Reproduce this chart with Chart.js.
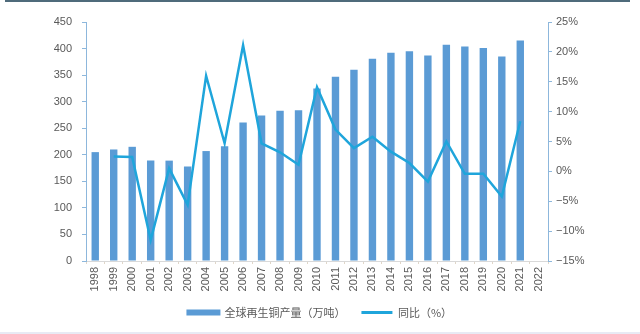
<!DOCTYPE html>
<html>
<head>
<meta charset="utf-8">
<script src="https://cdn.jsdelivr.net/npm/chart.js@4/dist/chart.umd.min.js"></script>
<style>
    body { margin: 0; background: #fff; }
    #wrap { position: relative; width: 640px; height: 334px; }
    #topRule { position: absolute; left: 5px; top: 0; width: 625px; height: 2px; background: #4f6b7b; }
    #bottomRule { position: absolute; left: 0; top: 332px; width: 640px; height: 2px; background: #e8eaf4; }
</style>
</head>
<body>
<div id="wrap">
    <canvas id="copperChart" width="640" height="334"></canvas>
    <div id="topRule"></div>
    <div id="bottomRule"></div>
</div>
<script>
// 全球再生铜产量 (万吨) and yoy change (%)
const years = ['1998', '1999', '2000', '2001', '2002', '2003', '2004', '2005', '2006', '2007', '2008', '2009', '2010',
    '2011', '2012', '2013', '2014', '2015', '2016', '2017', '2018', '2019', '2020', '2021', '2022'];
const output = [205, 210, 215, 189, 189, 178, 207, 216, 261, 274, 283, 284, 325,
    347, 360, 381, 392, 395, 387, 407, 404, 401, 385, 415, null];
const yoy = [null, 2.5, 2.4, -11.5, 0.5, -5.6, 16.0, 4.7, 21.1, 4.7, 3.2, 1.1, 14.1,
    7.0, 3.9, 5.8, 3.3, 1.4, -1.7, 5.0, -0.4, -0.4, -4.2, 8.4, null];
const leftTicks = [0, 50, 100, 150, 200, 250, 300, 350, 400, 450];
const rightTicks = [-15, -10, -5, 0, 5, 10, 15, 20, 25];

const barColor = '#5b9bd5';
const lineColor = '#1fa5db';
const textColor = '#595959';
const tickFont = { family: 'Liberation Sans, Arial, sans-serif', size: 11 };

document.addEventListener('DOMContentLoaded', () => {
    renderChart();
});

function renderChart() {
    const ctx = document.getElementById('copperChart').getContext('2d');

    new Chart(ctx, {
        type: 'bar',
        data: {
            labels: years,
            datasets: [
                {
                    type: 'line',
                    label: '同比（%）',
                    data: yoy,
                    yAxisID: 'y1',
                    borderColor: lineColor,
                    backgroundColor: lineColor,
                    borderWidth: 2.5,
                    pointRadius: 0,
                    tension: 0,
                    order: 0
                },
                {
                    label: '全球再生铜产量（万吨）',
                    data: output,
                    yAxisID: 'y',
                    backgroundColor: barColor,
                    categoryPercentage: 1,
                    barPercentage: 0.4,
                    order: 1
                }
            ]
        },
        options: {
            responsive: false,
            animation: false,
            layout: { padding: { top: 22, left: 0, right: 0, bottom: 6 } },
            plugins: {
                tooltip: { enabled: false },
                legend: {
                    position: 'bottom',
                    reverse: true,
                    labels: {
                        boxWidth: 31,
                        boxHeight: 3,
                        padding: 16,
                        color: textColor,
                        font: { family: 'Noto Sans CJK SC', size: 11 },
                        generateLabels: chart => {
                            return chart.data.datasets.map((ds, i) => ({
                                text: ds.label,
                                fillStyle: ds.type === 'line' ? ds.borderColor : ds.backgroundColor,
                                strokeStyle: ds.type === 'line' ? ds.borderColor : ds.backgroundColor,
                                lineWidth: ds.type === 'line' ? 0 : 3,
                                hidden: false,
                                datasetIndex: i,
                                fontColor: textColor
                            }));
                        }
                    }
                }
            },
            scales: {
                x: {
                    offset: true,
                    grid: { display: true, drawOnChartArea: false, drawTicks: true, tickLength: 3, color: '#e0d6c8', offset: true },
                    border: { display: true, color: '#d9d9d9' },
                    ticks: { color: textColor, font: tickFont, minRotation: 90, maxRotation: 90, padding: 3, autoSkip: false },
                    afterFit: scale => { scale.height = 30; }
                },
                y: {
                    position: 'left',
                    min: 0,
                    max: 450,
                    afterBuildTicks: scale => { scale.ticks = leftTicks.map(v => ({ value: v })); },
                    grid: { display: true, drawOnChartArea: false, drawTicks: true, tickLength: 4, color: '#8db7dc' },
                    border: { display: true, color: '#8db7dc' },
                    ticks: { color: textColor, font: tickFont, padding: 10 },
                    afterFit: scale => { scale.width = 86; }
                },
                y1: {
                    position: 'right',
                    min: -15,
                    max: 25,
                    afterBuildTicks: scale => { scale.ticks = rightTicks.map(v => ({ value: v })); },
                    grid: { display: true, drawOnChartArea: false, drawTicks: true, tickLength: 4, color: '#8db7dc' },
                    border: { display: true, color: '#8db7dc' },
                    ticks: {
                        color: textColor,
                        font: tickFont,
                        padding: 4,
                        callback: v => (v < 0 ? '\u2212' + Math.abs(v) : v) + '%'
                    },
                    afterFit: scale => { scale.width = 92; }
                }
            }
        }
    });
}
</script>
</body>
</html>
